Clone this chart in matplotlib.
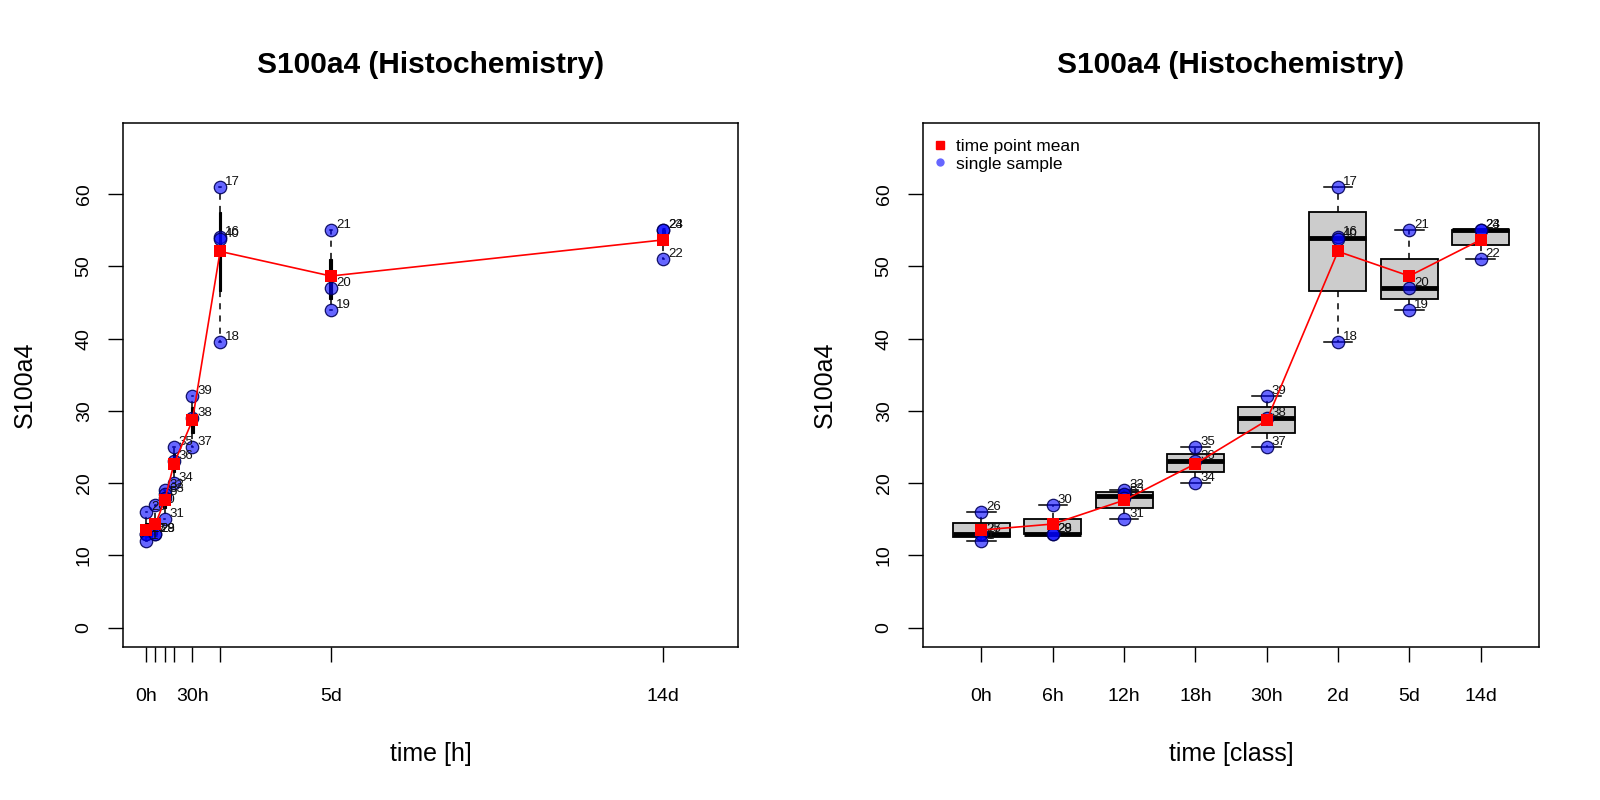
import numpy as np
import matplotlib
matplotlib.use('Agg')
import matplotlib.pyplot as plt
from matplotlib.lines import Line2D

plt.rcParams['font.family'] = ['Liberation Sans', 'DejaVu Sans']

# time points
time_labels = ['0h', '6h', '12h', '18h', '30h', '2d', '5d', '14d']
time_hours = [0, 6, 12, 18, 30, 48, 120, 336]
left_tick_labels = ['0h', '', '', '', '30h', '', '5d', '14d']

# single samples: id, time point index, value
sample_id = [26, 27, 25, 1,
             30, 28, 29,
             32, 33, 5, 31,
             35, 36, 34,
             39, 38, 37,
             17, 16, 40, 18,
             21, 20, 19,
             23, 24, 22]
sample_group = [0, 0, 0, 0,
                1, 1, 1,
                2, 2, 2, 2,
                3, 3, 3,
                4, 4, 4,
                5, 5, 5, 5,
                6, 6, 6,
                7, 7, 7]
sample_value = [16, 13, 13, 12,
                17, 13, 13,
                19, 18.5, 18, 15,
                25, 23, 20,
                32, 29, 25,
                61, 54, 53.8, 39.5,
                55, 47, 44,
                55, 55, 51]

title = 'S100a4 (Histochemistry)'
ylabel = 'S100a4'

sample_group = np.array(sample_group)
sample_value = np.array(sample_value, dtype=float)


def fivenum(v):
    """Tukey five number summary, as R's boxplot uses it"""
    x = np.sort(v)
    n = len(x)
    n4 = np.floor((n + 3) / 2) / 2
    d = np.array([1, n4, (n + 1) / 2, n + 1 - n4, n]) - 1
    return 0.5 * (x[np.floor(d).astype(int)] + x[np.ceil(d).astype(int)])


def box_stats():
    stats = []
    for g in range(len(time_labels)):
        v = sample_value[sample_group == g]
        lo, q1, med, q3, hi = fivenum(v)
        iqr = q3 - q1
        inside = v[(v >= q1 - 1.5 * iqr) & (v <= q3 + 1.5 * iqr)]
        stats.append(dict(med=med, q1=q1, q3=q3, whislo=inside.min(),
                          whishi=inside.max(), fliers=[]))
    return stats


def draw_panel(ax, xpos, width, tick_labels, xlabel, boxface, boxlw):
    stats = box_stats()
    ax.bxp(stats, positions=xpos, widths=width, capwidths=width * 0.5,
           patch_artist=True, showfliers=False, manage_ticks=False,
           boxprops=dict(facecolor=boxface, edgecolor='black', linewidth=boxlw),
           medianprops=dict(color='black', linewidth=3.5, solid_capstyle='butt'),
           whiskerprops=dict(color='black', linewidth=1.1, linestyle=(0, (4, 4))),
           capprops=dict(color='black', linewidth=1.1), zorder=2)

    xs = np.array(xpos, dtype=float)[sample_group]
    ax.scatter(xs, sample_value, s=80, facecolor=(0, 0, 1, 0.6),
               edgecolor=(0, 0, 0.35, 0.9), linewidth=0.9, zorder=3)
    for sid, x, y in zip(sample_id, xs, sample_value):
        ax.annotate(str(sid), (x, y), xytext=(3.6, 1.5),
                    textcoords='offset points', fontsize=9.5,
                    ha='left', va='baseline', color='#111111', zorder=4)

    means = [sample_value[sample_group == g].mean()
             for g in range(len(time_labels))]
    ax.plot(xpos, means, color='red', linewidth=1.2, zorder=5)
    ax.scatter(xpos, means, marker='s', s=64, color='red',
               linewidth=0, zorder=6)

    ax.set_ylim(-2.69, 69.85)
    ax.set_yticks(np.arange(0, 61, 10))
    ax.set_xticks(xpos)
    ax.set_xticklabels(tick_labels)
    ax.tick_params(axis='both', direction='out', length=10.8, width=1,
                   labelsize=14)
    ax.tick_params(axis='x', pad=19)
    ax.tick_params(axis='y', pad=11, labelrotation=90)
    for lab in ax.get_yticklabels():
        lab.set_va('center')
    for sp in ax.spines.values():
        sp.set_linewidth(1.1)

    ax.set_title(title, fontsize=21.5, fontweight='bold', y=1.11, pad=0,
                 va='center')
    ax.set_xlabel(xlabel, fontsize=18, va='center')
    ax.xaxis.set_label_coords(0.5, -0.204)
    ax.set_ylabel(ylabel, fontsize=18, va='center')
    ax.yaxis.set_label_coords(-0.16, 0.5)


fig = plt.figure(figsize=(16, 8), dpi=100)
ax1 = fig.add_axes([123 / 1600, 1 - 647 / 800, 615 / 1600, 524 / 800])
ax2 = fig.add_axes([923 / 1600, 1 - 647 / 800, 616 / 1600, 524 / 800])

draw_panel(ax1, time_hours, 1.8, left_tick_labels, 'time [h]', 'black', 0.8)
ax1.set_xlim(-15.1, 384.6)

cls = list(range(1, len(time_labels) + 1))
draw_panel(ax2, cls, 0.8, time_labels, 'time [class]', '#cccccc', 1.3)
ax2.set_xlim(0.18, 8.82)

handles = [Line2D([], [], marker='s', color='red', linestyle='none',
                  markersize=6, label='time point mean'),
           Line2D([], [], marker='o', color=(0, 0, 1, 0.6), linestyle='none',
                  markeredgewidth=0, markersize=6, label='single sample')]
ax2.legend(handles=handles, loc='upper left', bbox_to_anchor=(-0.006, 1.0),
           frameon=False, fontsize=12.5, handlelength=0.6,
           handletextpad=0.6, labelspacing=0.15, borderaxespad=0.5)

fig.savefig('out.png', dpi=100)
